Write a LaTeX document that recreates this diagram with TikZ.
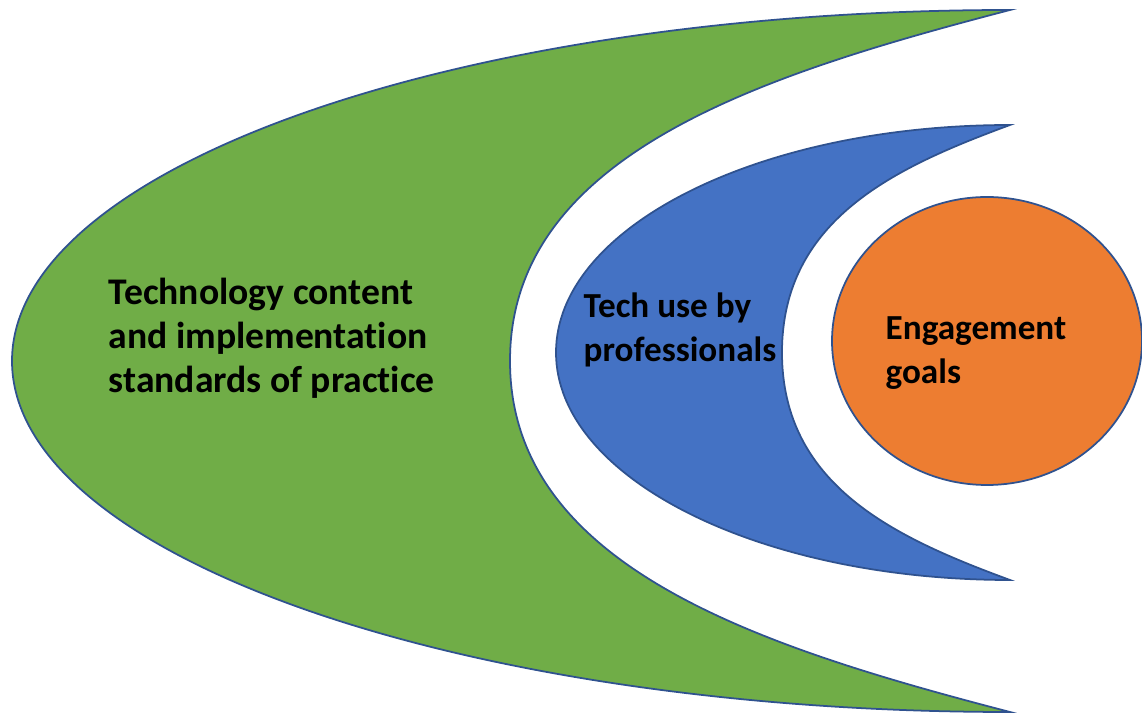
\documentclass[tikz,border=0pt]{standalone}
\usepackage{fontspec}
\setmainfont{Carlito}[Ligatures=NoCommon]
\usetikzlibrary{positioning,calc}
\definecolor{mgreen}{HTML}{70AD47}
\definecolor{mblue}{HTML}{4472C4}
\definecolor{morange}{HTML}{ED7D31}
\definecolor{medge}{HTML}{2F528F}
\tikzset{
  moon/.style={draw=medge, line width=0.5pt},
  lbl/.style={anchor=west, align=left, inner sep=0pt, text=black, font=\bfseries\fontsize{10}{12.5}\selectfont}
}

\begin{document}
\begin{tikzpicture}[x=0.01cm, y=0.01cm]
  \useasboundingbox (0,0) rectangle (1142,715);
  % outer crescent
  \path[moon, fill=mgreen] (1010,705) arc[start angle=90, end angle=270, x radius=998, y radius=351]
    .. controls (760,68) and (510,148) .. (510,354)
    .. controls (510,560) and (760,640) .. (1010,705) -- cycle;
  % middle crescent
  \path[moon, fill=mblue] (1010,590) arc[start angle=90, end angle=270, x radius=454, y radius=227.5]
    .. controls (896,177) and (782,229) .. (782,362.5)
    .. controls (782,496) and (896,548) .. (1010,590) -- cycle;
  % inner circle
  \path[moon, fill=morange] (987,374) ellipse[x radius=155, y radius=144];

  \node[lbl, font=\bfseries\fontsize{10.7}{12.5}\selectfont] (techstd) at (108,377) {Technology content\\and implementation\\standards of practice};
  \node[lbl] (techuse) at (583,385) {Tech use by\\professionals};
  \node[lbl] (goals) at (885,362) {Engagement\\goals};
\end{tikzpicture}
\end{document}
